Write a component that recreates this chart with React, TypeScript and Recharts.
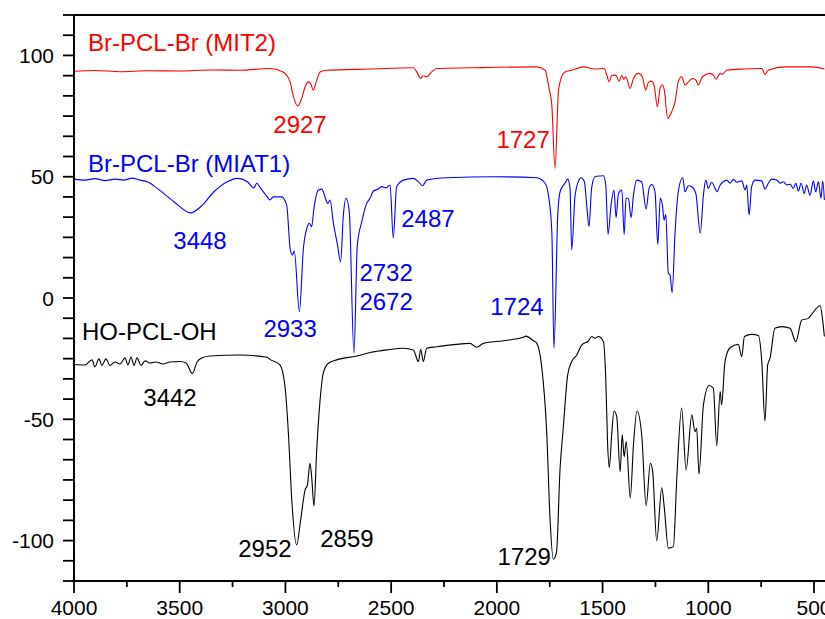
import React from 'react';
import { LineChart, Line, XAxis, YAxis, ReferenceLine, ReferenceDot } from 'recharts';

// wavenumber (cm-1) / transmittance pairs
const redW = [4000, 3900, 3782, 3650, 3499, 3350, 3215, 3073, 3011, 2978, 2964, 2942, 2923, 2907, 2892, 2880, 2868, 2852, 2836, 2805, 2600, 2395, 2379, 2360, 2348, 2332, 2308, 2284, 2127, 1811, 1772, 1753, 1740, 1725, 1709, 1701, 1678, 1646, 1591, 1536, 1492, 1480, 1469, 1457, 1438, 1422, 1409, 1400, 1390, 1370, 1354, 1331, 1312, 1296, 1283, 1267, 1255, 1241, 1228, 1217, 1208, 1192, 1173, 1157, 1142, 1126, 1110, 1091, 1075, 1059, 1047, 1028, 992, 976, 963, 944, 934, 913, 826, 747, 732, 716, 637, 511, 451];
const redT = [93.5, 93.8, 93.3, 93.7, 93.6, 94.0, 93.9, 94.6, 93.2, 89.1, 83.6, 79.2, 82.3, 87.1, 89.1, 88.2, 85.7, 89.8, 93.2, 93.9, 94.4, 94.9, 93.2, 90.5, 91.6, 91.2, 93.2, 94.6, 94.9, 95.3, 93.9, 86.4, 79.5, 53.4, 85.0, 89.1, 93.2, 93.9, 95.3, 94.4, 94.6, 91.9, 89.1, 91.7, 91.9, 89.4, 91.7, 90.2, 91.2, 86.4, 90.5, 92.6, 91.2, 85.7, 88.9, 89.4, 87.1, 78.8, 86.4, 87.8, 85.7, 74.0, 76.8, 80.9, 89.1, 91.2, 87.8, 89.4, 90.5, 89.8, 87.8, 91.2, 92.6, 91.9, 90.2, 92.6, 92.2, 93.9, 94.4, 94.6, 92.2, 93.9, 95.3, 95.3, 94.4];

const blueW = [4000, 3948, 3901, 3853, 3806, 3764, 3726, 3688, 3653, 3606, 3527, 3448, 3401, 3338, 3275, 3228, 3180, 3149, 3136, 3117, 3086, 3073, 3057, 3018, 2994, 2978, 2967, 2958, 2934, 2915, 2899, 2887, 2876, 2865, 2844, 2828, 2813, 2800, 2789, 2773, 2755, 2739, 2726, 2713, 2698, 2676, 2660, 2639, 2616, 2600, 2584, 2561, 2545, 2524, 2505, 2490, 2474, 2442, 2395, 2371, 2351, 2332, 2237, 2017, 1811, 1772, 1756, 1740, 1730, 1712, 1701, 1678, 1665, 1654, 1646, 1630, 1615, 1602, 1586, 1575, 1564, 1552, 1536, 1512, 1496, 1485, 1474, 1460, 1446, 1436, 1425, 1409, 1398, 1389, 1378, 1365, 1354, 1338, 1315, 1294, 1280, 1267, 1252, 1239, 1227, 1217, 1209, 1201, 1189, 1181, 1171, 1157, 1142, 1121, 1110, 1094, 1078, 1059, 1038, 1023, 1012, 1000, 984, 968, 959, 944, 929, 913, 897, 881, 865, 842, 826, 818, 807, 795, 779, 747, 732, 716, 700, 676, 661, 645, 629, 613, 598, 586, 574, 561, 546, 535, 519, 503, 492, 479, 467, 459, 451];
const blueT = [49.0, 48.6, 49.2, 48.4, 49.0, 48.6, 49.4, 48.6, 47.9, 45.2, 39.7, 35.1, 37.6, 43.8, 47.9, 49.3, 47.9, 45.4, 47.3, 45.2, 41.7, 40.4, 41.7, 41.7, 38.3, 20.5, 17.7, 19.4, -5.6, 20.5, 28.7, 30.8, 29.4, 37.0, 44.5, 44.9, 41.7, 39.0, 40.4, 30.8, 22.5, 15.0, 34.2, 41.1, 35.6, -22.8, 21.8, 31.4, 39.0, 41.1, 44.1, 44.9, 45.9, 45.4, 46.6, 24.8, 45.9, 48.6, 49.3, 47.9, 46.3, 48.6, 49.6, 50.0, 49.6, 47.3, 42.4, 27.3, -20.7, 34.2, 43.8, 47.3, 49.0, 45.2, 19.8, 42.4, 47.9, 49.6, 47.9, 38.3, 29.4, 45.2, 50.0, 50.3, 50.4, 46.6, 26.2, 38.3, 44.5, 33.1, 43.1, 44.5, 26.2, 41.1, 41.1, 33.1, 42.4, 48.6, 47.9, 36.7, 45.2, 46.8, 43.8, 22.1, 41.1, 38.3, 32.1, 34.5, 10.2, 9.5, 2.2, 27.3, 43.8, 49.7, 43.8, 46.3, 45.9, 43.1, 26.7, 42.4, 48.6, 45.2, 47.7, 45.2, 43.8, 46.6, 47.9, 48.6, 47.3, 48.9, 47.7, 48.3, 44.5, 46.6, 34.2, 45.9, 48.6, 48.3, 44.9, 47.3, 49.0, 48.6, 47.3, 47.9, 46.6, 46.9, 45.2, 47.3, 44.1, 47.3, 43.1, 46.6, 42.4, 48.2, 43.8, 47.9, 41.1, 48.2, 40.4];

const blackW = [4000, 3948, 3915, 3901, 3882, 3868, 3849, 3830, 3806, 3782, 3759, 3745, 3730, 3716, 3702, 3683, 3664, 3641, 3612, 3579, 3546, 3499, 3470, 3440, 3418, 3395, 3357, 3215, 3087, 3073, 3026, 3002, 2986, 2970, 2947, 2928, 2907, 2896, 2884, 2876, 2865, 2852, 2836, 2821, 2797, 2757, 2663, 2600, 2521, 2442, 2395, 2371, 2360, 2348, 2332, 2284, 2127, 2095, 2064, 1969, 1875, 1862, 1828, 1811, 1788, 1764, 1749, 1733, 1718, 1701, 1686, 1665, 1646, 1622, 1599, 1567, 1551, 1536, 1520, 1496, 1485, 1476, 1468, 1457, 1446, 1433, 1417, 1407, 1398, 1388, 1369, 1354, 1337, 1315, 1294, 1274, 1263, 1244, 1220, 1208, 1189, 1165, 1149, 1126, 1105, 1078, 1063, 1055, 1044, 1023, 996, 976, 960, 944, 937, 921, 897, 858, 842, 829, 795, 763, 747, 732, 719, 708, 685, 653, 613, 586, 558, 527, 511, 471, 460, 451];
const blackT = [-27.4, -27.6, -25.5, -28.4, -25.1, -27.8, -25.1, -27.8, -26.4, -27.2, -24.7, -27.6, -24.3, -27.8, -24.7, -27.8, -25.9, -26.8, -26.4, -27.2, -26.4, -26.2, -26.8, -31.1, -26.4, -24.7, -23.9, -23.5, -24.4, -25.3, -27.6, -36.5, -55.7, -83.2, -101.8, -91.5, -79.1, -77.1, -68.1, -73.6, -85.7, -62.6, -42.0, -31.0, -26.9, -25.5, -23.9, -22.5, -21.4, -20.7, -21.4, -26.2, -21.1, -26.2, -20.7, -20.1, -18.7, -20.3, -18.7, -17.6, -16.2, -15.7, -17.6, -18.7, -28.3, -55.7, -90.1, -107.7, -104.9, -70.2, -53.7, -31.7, -26.2, -23.5, -19.4, -17.7, -15.9, -16.6, -15.9, -18.0, -33.1, -60.6, -69.9, -56.4, -46.6, -48.9, -71.6, -56.4, -65.4, -59.2, -82.5, -60.6, -46.6, -56.4, -85.6, -68.1, -71.6, -100.1, -78.2, -86.6, -103.1, -102.5, -74.3, -45.4, -70.9, -48.2, -55.1, -53.7, -72.6, -44.1, -36.1, -37.2, -60.9, -38.6, -44.1, -26.2, -20.5, -19.1, -24.2, -15.9, -15.0, -15.5, -26.2, -50.7, -27.6, -24.8, -12.5, -11.8, -12.5, -18.0, -9.1, -8.4, -6.7, -3.2, -8.4, -15.9];

const xTicks = [4000, 3750, 3500, 3250, 3000, 2750, 2500, 2250, 2000, 1750, 1500, 1250, 1000, 750, 500];
const xLabelTicks = [4000, 3500, 3000, 2500, 2000, 1500, 1000, 500];
const yLabelTicks = [100, 50, 0, -50, -100];

const labelTexts = ['Br-PCL-Br (MIT2)', '2927', '1727', 'Br-PCL-Br (MIAT1)', '3448', '2487', '2732', '2672', '1724', '2933', 'HO-PCL-OH', '3442', '2952', '2859', '1729'];
const labelW = [3934, 2931, 1876, 3934, 3404, 2326, 2524, 2524, 1905, 2978, 3962, 3546, 3097, 2709, 1871];
const labelT = [105.5, 71.7, 65.5, 55.6, 23.9, 32.6, 10.7, -1.6, -3.3, -12.4, -14.0, -41.2, -103.4, -99.3, -106.7];
const labelSeries = [0, 0, 0, 1, 1, 1, 1, 1, 1, 1, 2, 2, 2, 2, 2];

const COLORS = ['#ff0000', '#0000ff', '#000000'];
const FONT = '"Liberation Sans", Arial, sans-serif';

const X_MIN = 448;
const X_MAX = 4000;
const Y_STEP = 50 / 6;
const Y_MAX = 14 * Y_STEP;
const yTicks = Array.from({ length: 29 }, (_, i) => -Y_MAX + i * Y_STEP);

const zip = (w: number[], t: number[]) => w.map((x, i) => ({ w: x, t: t[i] }));
const series = [zip(redW, redT), zip(blueW, blueT), zip(blackW, blackT)];

const XTick = ({ x, y, payload }: any) => {
  const major = xLabelTicks.includes(payload.value);
  return (
    <g>
      <line x1={x} x2={x} y1={y} y2={y + (major ? 12 : 6)} stroke="#000" strokeWidth={1.8} />
      {major && (
        <text x={x} y={y + 34} textAnchor="middle" fontSize={21} fontFamily={FONT} fill="#000">
          {payload.value}
        </text>
      )}
    </g>
  );
};

const YTick = ({ x, y, payload }: any) => {
  const near = yLabelTicks.find(v => Math.abs(v - payload.value) < 0.01);
  return (
    <g>
      <line x1={x - 11} x2={x} y1={y} y2={y} stroke="#000" strokeWidth={1.8} />
      {near !== undefined && (
        <text x={x - 20} y={y} textAnchor="end" dominantBaseline="central" fontSize={21} fontFamily={FONT} fill="#000">
          {near}
        </text>
      )}
    </g>
  );
};

export default function App() {
  return (
    <div style={{ position: 'absolute', left: 0, top: 0, background: '#fff' }}>
      <LineChart width={825} height={619} margin={{ top: 15, right: 0, bottom: 0, left: 0 }}>
        <XAxis
          type="number"
          dataKey="w"
          domain={[X_MIN, X_MAX]}
          reversed
          allowDataOverflow
          ticks={xTicks}
          interval={0}
          height={38}
          tickSize={0}
          tickMargin={0}
          tickLine={false}
          axisLine={{ stroke: '#000', strokeWidth: 2 }}
          tick={<XTick />}
        />
        <YAxis
          type="number"
          dataKey="t"
          domain={[-Y_MAX, Y_MAX]}
          allowDataOverflow
          ticks={yTicks}
          interval={0}
          width={74}
          tickSize={0}
          tickMargin={0}
          tickLine={false}
          axisLine={{ stroke: '#000', strokeWidth: 2 }}
          tick={<YTick />}
        />
        <ReferenceLine y={Y_MAX} stroke="#000" strokeWidth={2} ifOverflow="extendDomain" />
        {series.map((d, i) => (
          <Line
            key={i}
            data={d}
            dataKey="t"
            type="monotone"
            stroke={COLORS[i]}
            strokeWidth={1.1}
            dot={false}
            activeDot={false}
            isAnimationActive={false}
          />
        ))}
        {labelTexts.map((txt, i) => (
          <ReferenceDot
            key={txt + i}
            x={labelW[i]}
            y={labelT[i]}
            r={0}
            shape={(p: any) => (
              <text
                x={p.cx}
                y={p.cy}
                textAnchor={txt.length > 4 ? 'start' : 'middle'}
                dominantBaseline="central"
                fontSize={24}
                fontFamily={FONT}
                fill={COLORS[labelSeries[i]]}
              >
                {txt}
              </text>
            )}
          />
        ))}
      </LineChart>
    </div>
  );
}
